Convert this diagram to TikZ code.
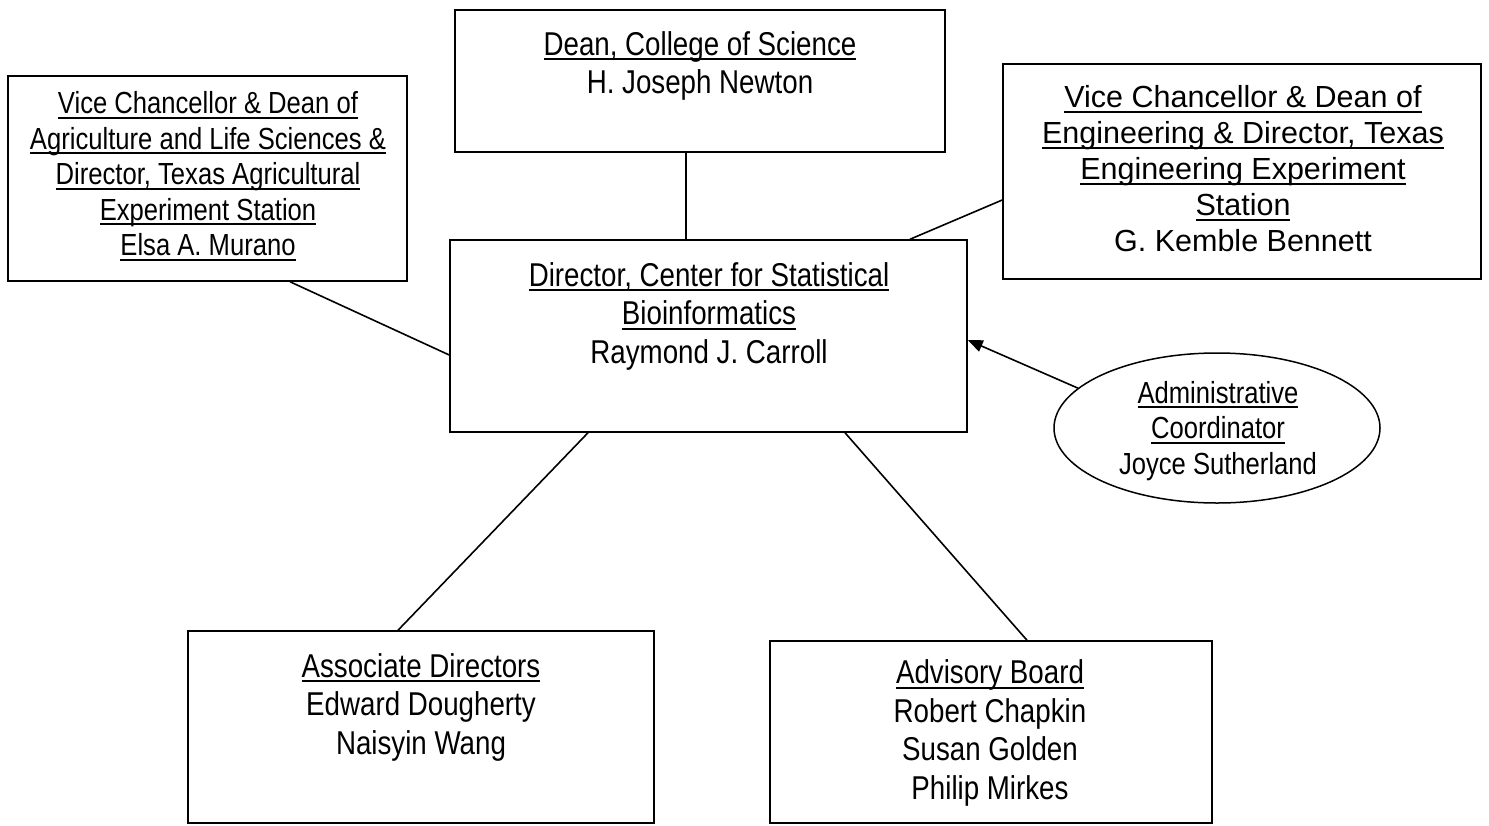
\documentclass[tikz,border=0pt]{standalone}
\usepackage{fontspec}
\setmainfont{Liberation Sans}
\newfontfamily\narrowsf{Liberation Sans}[FakeStretch=0.84]
\usetikzlibrary{arrows.meta,shapes.geometric}
\newcommand\uline[1]{\setbox0=\hbox{#1}\rlap{\vrule width\wd0 height -3pt depth 5pt}\box0}
\tikzset{
  orgbox/.style={draw,line width=1.5pt,inner sep=0pt},
  orgtext/.style={align=center,inner sep=0pt,font=\narrowsf\fontsize{33}{38.5}\selectfont},
  smalltext/.style={font=\narrowsf\fontsize{30.5}{35.5}\selectfont},
  link/.style={line width=1.6pt}
}

\begin{document}
\begin{tikzpicture}[x=1pt,y=-1pt]
  \useasboundingbox (0,0) rectangle (1489,825);
  % boxes
  \node[orgbox,minimum width=399pt,minimum height=205pt] (agri) at (207.5,178.5) {};
  \node[orgbox,minimum width=490pt,minimum height=142pt] (dean) at (700,81) {};
  \node[orgbox,minimum width=517pt,minimum height=192pt] (dir) at (708.5,336) {};
  \node[orgbox,minimum width=478pt,minimum height=215pt] (eng) at (1242,171.5) {};
  \node[orgbox,minimum width=466pt,minimum height=192pt] (assoc) at (421,727) {};
  \node[orgbox,minimum width=442pt,minimum height=182pt] (board) at (991,732) {};
  \node[orgbox,ellipse,minimum width=326pt,minimum height=150pt,
        orgtext,smalltext] (coord) at (1217,428) {};
  % texts
  \node[orgtext,smalltext] (coord-txt) at (1218,431)
    {\uline{Administrative}\\\uline{Coordinator}\\Joyce Sutherland};
  \node[orgtext,smalltext] (agri-txt) at (208,176)
    {\uline{Vice Chancellor \& Dean of}\\\uline{Agriculture and Life Sciences \&}\\
     \uline{Director, Texas Agricultural}\\\uline{Experiment Station}\\\uline{Elsa A. Murano}};
  \node[orgtext] (dean-txt) at (700,66)
    {\uline{Dean, College of Science}\\H. Joseph Newton};
  \node[orgtext] (dir-txt) at (709,316)
    {\uline{Director, Center for Statistical}\\\uline{Bioinformatics}\\Raymond J. Carroll};
  \node[orgtext,font=\fontsize{30.5}{36}\selectfont] (eng-txt) at (1243,169)
    {\uline{Vice Chancellor \& Dean of}\\\uline{Engineering \& Director, Texas}\\
     \uline{Engineering Experiment}\\\uline{Station}\\G. Kemble Bennett};
  \node[orgtext] (assoc-txt) at (421,707)
    {\uline{Associate Directors}\\Edward Dougherty\\Naisyin Wang};
  \node[orgtext] (board-txt) at (990,733)
    {\uline{Advisory Board}\\Robert Chapkin\\Susan Golden\\Philip Mirkes};
  % links
  \draw[link] ([xshift=82.5pt]agri.south) -- ([yshift=-19pt]dir.west);
  \draw[link] ([xshift=-14pt]dean.south) -- ([xshift=-22.5pt]dir.north);
  \draw[link] ([xshift=201.5pt]dir.north) -- ([yshift=-28.5pt]eng.west);
  \draw[link,-{Triangle[length=15pt,width=12pt]}] (coord.164) -- ([yshift=-4pt]dir.east);
  \draw[link] ([xshift=-120.5pt]dir.south) -- ([xshift=-23pt]assoc.north);
  \draw[link] ([xshift=136.5pt]dir.south) -- ([xshift=36pt]board.north);
\end{tikzpicture}
\end{document}
